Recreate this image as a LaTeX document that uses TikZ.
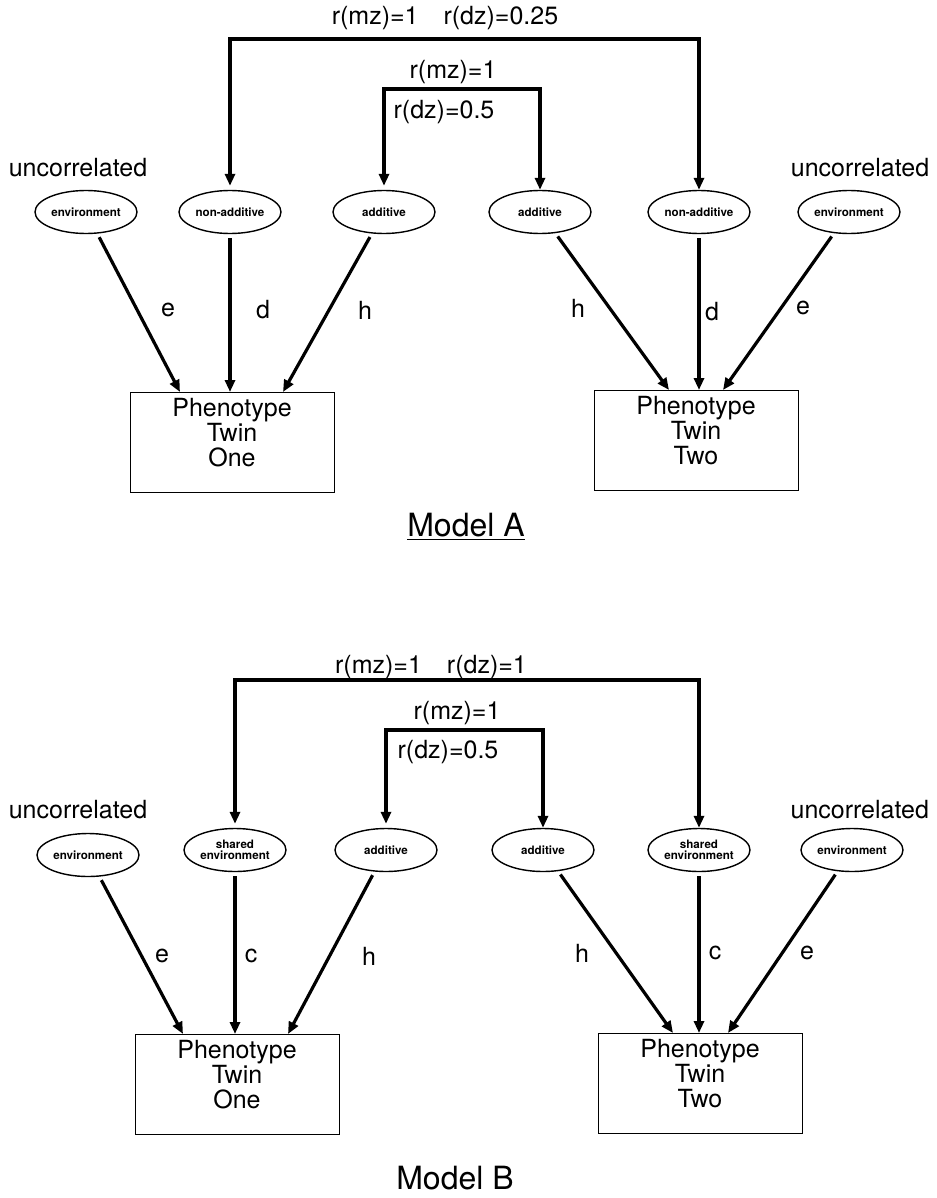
\documentclass[tikz,border=0pt]{standalone}
\usepackage{fontspec}
\setmainfont{TeX Gyre Heros}
\usetikzlibrary{arrows.meta,shapes.geometric}

\begin{document}
\begin{tikzpicture}[x=0.5pt,y=-0.5pt,
    >={Triangle[length=6pt,width=5pt]},
    factor/.style={draw,ellipse,line width=0.7pt,minimum width=51pt,minimum height=21.5pt,
      inner sep=0pt,align=center,font=\fontsize{5.8}{5.4}\selectfont\bfseries},
    pheno/.style={draw,line width=0.5pt,anchor=north,minimum width=102pt,inner ysep=3pt,
      text depth=10pt,align=center,font=\fontsize{12.5}{12.5}\selectfont},
    link/.style={->,line width=1.6pt,shorten <=2pt},
    lbl/.style={font=\fontsize{12.5}{15}\selectfont},
    title/.style={font=\fontsize{16}{18}\selectfont,inner sep=1pt}]
  \useasboundingbox (0,0) rectangle (936,1198);

  % Model A
  \node[lbl] (uncA1) at (78,168) {uncorrelated};
  \node[lbl] (uncA2) at (860,168) {uncorrelated};
  \node[factor] (envA1) at (86,212) {environment};
  \node[factor] (nadA1) at (230,212) {non-additive};
  \node[factor] (addA1) at (384,212) {additive};
  \node[factor] (addA2) at (540,212) {additive};
  \node[factor] (nadA2) at (699,212) {non-additive};
  \node[factor] (envA2) at (849,212) {environment};
  \node[pheno] (phA1) at (232,392) {Phenotype\\Twin\\One};
  \node[pheno] (phA2) at (696,390) {Phenotype\\Twin\\Two};

  \draw[link,<->] (nadA1.north) -- (nadA1.north |- 0,39) -| (nadA2.north);
  \draw[link,<->] (addA1.north) -- (addA1.north |- 0,89) -| (addA2.north);
  \node[lbl] (corrA1) at (445,18) {r(mz)=1\quad r(dz)=0.25};
  \node[lbl] (corrA2) at (453,72) {r(mz)=1};
  \node[lbl] (corrA3) at (444,112) {r(dz)=0.5};

  \draw[link] (envA1) -- ([xshift=-26pt]phA1.north);
  \draw[link] (nadA1) -- (phA1.north -| nadA1);
  \draw[link] (addA1) -- ([xshift=25.5pt]phA1.north);
  \draw[link] (addA2) -- ([xshift=-13.5pt]phA2.north);
  \draw[link] (nadA2) -- (phA2.north -| nadA2);
  \draw[link] (envA2) -- ([xshift=13.5pt]phA2.north);
  \node[lbl] (eA1) at (168,310) {e};
  \node[lbl] (dA1) at (263,310) {d};
  \node[lbl] (hA1) at (365,310) {h};
  \node[lbl] (hA2) at (578,308) {h};
  \node[lbl] (dA2) at (712,312) {d};
  \node[lbl] (eA2) at (803,308) {e};
  \node[title] (modA) at (466,527) {\underline{Model A}};

  % Model B
  \node[lbl] (uncB1) at (78,810) {uncorrelated};
  \node[lbl,anchor=east] (uncB2) at (936,810) {uncorrelated};
  \node[factor] (envB1) at (88,855) {environment};
  \node[factor] (shrB1) at (235,850) {shared\\environment};
  \node[factor] (addB1) at (386,850) {additive};
  \node[factor] (addB2) at (543,850) {additive};
  \node[factor] (shrB2) at (699,850) {shared\\environment};
  \node[factor] (envB2) at (852,850) {environment};
  \node[pheno] (phB1) at (237,1034) {Phenotype\\Twin\\One};
  \node[pheno] (phB2) at (700,1033) {Phenotype\\Twin\\Two};

  \draw[link,<->] (shrB1.north) -- (shrB1.north |- 0,680) -| (shrB2.north);
  \draw[link,<->] (addB1.north) -- (addB1.north |- 0,730) -| (addB2.north);
  \node[lbl] (corrB1) at (431,667) {r(mz)=1\quad r(dz)=1};
  \node[lbl] (corrB2) at (457,713) {r(mz)=1};
  \node[lbl] (corrB3) at (448,752) {r(dz)=0.5};

  \draw[link] (envB1) -- ([xshift=-27pt]phB1.north);
  \draw[link] (shrB1) -- (phB1.north -| shrB1);
  \draw[link] (addB1) -- ([xshift=25.5pt]phB1.north);
  \draw[link] (addB2) -- ([xshift=-13.5pt]phB2.north);
  \draw[link] (shrB2) -- (phB2.north -| shrB2);
  \draw[link] (envB2) -- ([xshift=14pt]phB2.north);
  \node[lbl] (eB1) at (162,956) {e};
  \node[lbl] (cB1) at (251,956) {c};
  \node[lbl] (hB1) at (369,956) {h};
  \node[lbl] (hB2) at (582,953) {h};
  \node[lbl] (cB2) at (715,953) {c};
  \node[lbl] (eB2) at (807,953) {e};
  \node[title] (modB) at (455,1178) {Model B};
\end{tikzpicture}
\end{document}
